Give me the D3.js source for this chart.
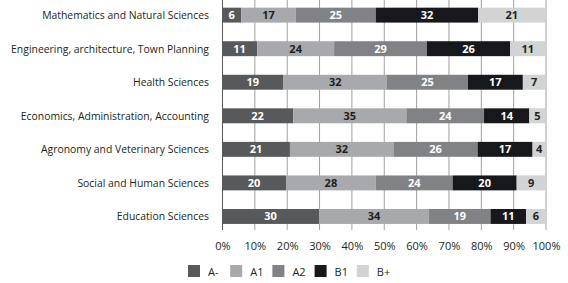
<!DOCTYPE html>
<html lang="en">
<head>
<meta charset="UTF-8"/>
<title>Levels by field of study</title>
<script src="https://d3js.org/d3.v7.min.js"></script>
<style>
	body { margin: 0; background: #fff; font-family: "Open Sans", sans-serif; }
	#chart svg { display: block; }
</style>
</head>
<body>
<div id="chart"></div>
<script>
	// categories, top to bottom
	var fields = [
		"Mathematics and Natural Sciences",
		"Engineering, architecture, Town Planning",
		"Health Sciences",
		"Economics, Administration, Accounting",
		"Agronomy and Veterinary Sciences",
		"Social and Human Sciences",
		"Education Sciences"
	];
	var levels = ["A-", "A1", "A2", "B1", "B+"];

	// one array per level, in the same order as fields
	var aMinus = [6, 11, 19, 22, 21, 20, 30];
	var a1     = [17, 24, 32, 35, 32, 28, 34];
	var a2     = [25, 29, 25, 24, 26, 24, 19];
	var b1     = [32, 26, 17, 14, 17, 20, 11];
	var bPlus  = [21, 11, 7, 5, 4, 9, 6];

	var tickValues = [0, 0.1, 0.2, 0.3, 0.4, 0.5, 0.6, 0.7, 0.8, 0.9, 1];

	var colors = ["#58595b", "#a7a9ac", "#808285", "#16181b", "#d1d3d4"];
	var textColors = ["#fff", "#231f20", "#fff", "#fff", "#231f20"];

	var w = 568, h = 283;

	// build rows, normalised so each bar fills 100%
	var rows = fields.map(function(f, i) {
		var vals = [aMinus[i], a1[i], a2[i], b1[i], bPlus[i]];
		var total = d3.sum(vals);
		var acc = 0;
		var segs = vals.map(function(v, k) {
			var s = { field: f, level: levels[k], k: k, value: v, x0: acc / total, x1: (acc + v) / total };
			acc += v;
			return s;
		});
		return { field: f, segs: segs };
	});

	var xScale = d3.scaleLinear().domain([0, 1]).range([222, 545.5]);
	var yScale = d3.scaleBand().domain(fields).range([-2.4, 234]).paddingInner(0.555).paddingOuter(0.3);

	var svg = d3.select("#chart").append("svg")
		.attr("width", w)
		.attr("height", h);

	// vertical grid lines
	svg.append("g").selectAll("line")
		.data(tickValues)
		.enter()
		.append("line")
		.attr("x1", function(d) { return xScale(d) + 0.5; })
		.attr("x2", function(d) { return xScale(d) + 0.5; })
		.attr("y1", 0)
		.attr("y2", 230)
		.attr("stroke", function(d) { return d === 0 ? "#58595b" : "#a0a0a0"; })
		.attr("stroke-width", 1);

	// bars
	var rowG = svg.append("g").selectAll("g")
		.data(rows)
		.enter()
		.append("g")
		.attr("transform", function(d) { return "translate(0," + yScale(d.field) + ")"; });

	rowG.selectAll("rect")
		.data(function(d) { return d.segs; })
		.enter()
		.append("rect")
		.attr("x", function(d) { return xScale(d.x0); })
		.attr("width", function(d) { return xScale(d.x1) - xScale(d.x0); })
		.attr("y", 0)
		.attr("height", yScale.bandwidth())
		.attr("fill", function(d) { return colors[d.k]; });

	rowG.selectAll("text")
		.data(function(d) { return d.segs; })
		.enter()
		.append("text")
		.attr("x", function(d) { return (xScale(d.x0) + xScale(d.x1)) / 2; })
		.attr("y", yScale.bandwidth() / 2 + 4)
		.attr("text-anchor", "middle")
		.attr("font-size", "11px")
		.attr("font-weight", "bold")
		.attr("fill", function(d) { return textColors[d.k]; })
		.text(function(d) { return d.value; });

	// category labels
	svg.append("g").selectAll("text")
		.data(fields)
		.enter()
		.append("text")
		.attr("x", 209)
		.attr("y", function(d) { return yScale(d) + yScale.bandwidth() / 2 + 4; })
		.attr("text-anchor", "end")
		.attr("font-size", "10.4px")
		.attr("fill", "#231f20")
		.text(function(d) { return d; });

	// x tick labels
	svg.append("g").selectAll("text")
		.data(tickValues)
		.enter()
		.append("text")
		.attr("x", function(d) { return xScale(d) + 1; })
		.attr("y", 250)
		.attr("text-anchor", "middle")
		.attr("font-size", "11px")
		.attr("fill", "#231f20")
		.text(d3.format(".0%"));

	// legend
	var leg = svg.append("g").selectAll("g")
		.data(levels)
		.enter()
		.append("g")
		.attr("transform", function(d, i) { return "translate(" + (188 + i * 42.2) + ",265)"; });
	leg.append("rect")
		.attr("width", 12)
		.attr("height", 12)
		.attr("fill", function(d, i) { return colors[i]; });
	leg.append("text")
		.attr("x", 20)
		.attr("y", 10.5)
		.attr("font-size", "11px")
		.attr("fill", "#231f20")
		.text(function(d) { return d; });
</script>
</body>
</html>
